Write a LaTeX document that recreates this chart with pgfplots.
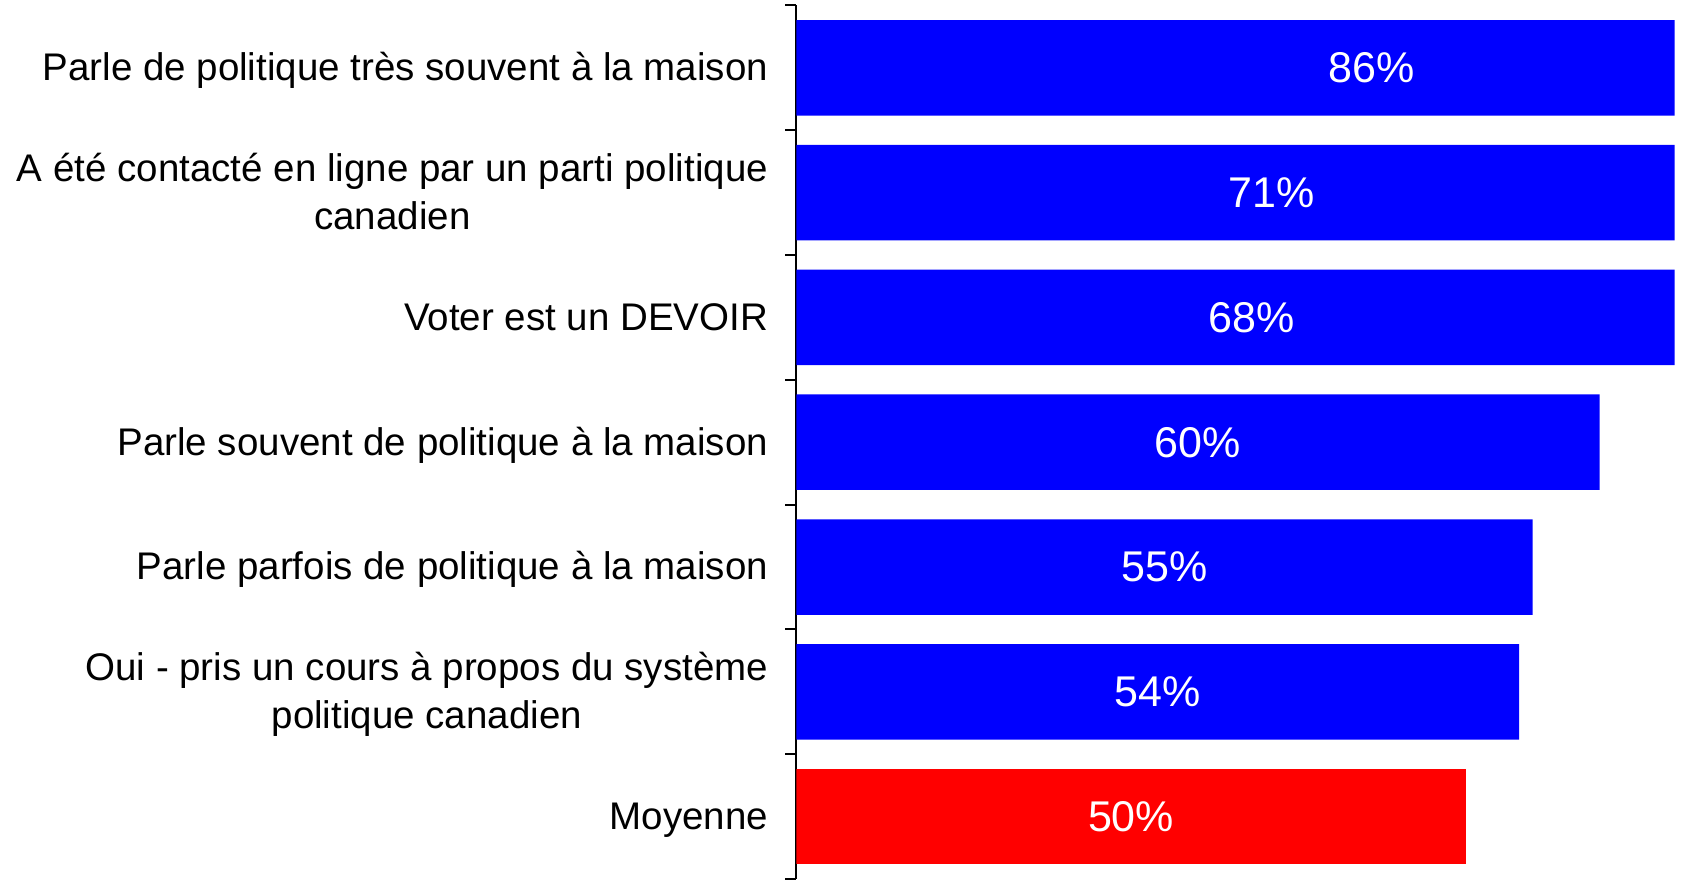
\documentclass[border=0pt]{standalone}
\usepackage{pgfplots}
\usepackage{pgfplotstable}
\pgfplotsset{compat=1.18}
\usepackage{fontspec}
\setmainfont{Liberation Sans}
\definecolor{barblue}{RGB}{0,0,255}
\definecolor{barred}{RGB}{255,0,0}

\pgfplotstableread{
y v
0 86
1 71
2 68
3 60
4 55
5 54
}\bluedata
\pgfplotstableread{
y v
6 50
}\reddata
\pgfplotstableread{
y v
0 86
1 71
2 68
3 60
4 55
5 54
6 50
}\alldata

\begin{document}
\begin{tikzpicture}
\useasboundingbox (0,0) rectangle (840.5pt,439.5pt);
\begin{axis}[
  at={(398.25pt,0pt)}, anchor=south west,
  scale only axis, width=439pt, height=436.8pt,
  xmin=0, xmax=65.6, ymin=-0.5, ymax=6.5, y dir=reverse,
  axis x line=none, axis y line*=left,
  ytick={0,1,2,3,4,5,6},
  yticklabels={
    Parle de politique très souvent à la maison\strut,
    {A été contacté en ligne par un parti politique\strut\\canadien\strut},
    Voter est un DEVOIR\strut,
    Parle souvent de politique à la maison\strut,
    Parle parfois de politique à la maison\strut,
    {Oui - pris un cours à propos du système\strut\\politique canadien\strut},
    Moyenne\strut},
  minor ytick={-0.5,0.5,1.5,2.5,3.5,4.5,5.5,6.5},
  major tick length=0pt, minor tick length=5.5pt, tick align=outside,
  y axis line style={line width=1pt, black},
  minor tick style={line width=1pt, black},
  yticklabel style={align=center, font=\fontsize{19.25}{24}\selectfont, inner sep=0pt, xshift=-14pt, yshift=-1.6pt},
  clip=true,
]
\addplot[xbar, bar shift=0pt, bar width=47.75pt, draw=none, fill=barblue] table[x=v, y=y]{\bluedata};
\addplot[xbar, bar shift=0pt, bar width=47.75pt, draw=none, fill=barred] table[x=v, y=y]{\reddata};
\addplot[draw=none, mark=none, point meta=explicit symbolic,
  nodes near coords={\pgfplotspointmeta\%},
  every node near coord/.append style={anchor=center, text=white, font=\fontsize{21.5}{21.5}\selectfont}]
  table[x expr=\thisrow{v}/2, y=y, meta=v]{\alldata};
\end{axis}
\end{tikzpicture}
\end{document}
